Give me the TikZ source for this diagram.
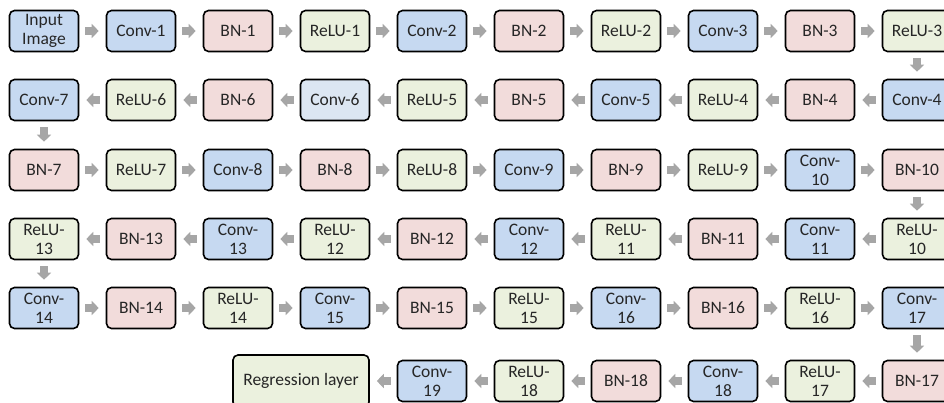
\documentclass[tikz,border=0pt]{standalone}
\usepackage{fontspec}
\setmainfont{Carlito}
\usetikzlibrary{arrows.meta}
\definecolor{cblue}{RGB}{198,217,241}
\definecolor{clight}{RGB}{220,230,242}
\definecolor{cpink}{RGB}{242,220,219}
\definecolor{cgreen}{RGB}{235,241,222}
\definecolor{carrow}{RGB}{166,166,166}
\definecolor{ctext}{RGB}{38,38,38}
\tikzset{
  box/.style={draw=black, line width=1.6pt, rounded corners=5pt, minimum width=69pt, minimum height=41pt,
    inner sep=0pt, align=center, font=\fontsize{17.5}{19}\selectfont, text=ctext},
  conv/.style={box, fill=cblue},
  convl/.style={box, fill=clight},
  bn/.style={box, fill=cpink},
  relu/.style={box, fill=cgreen},
  flow/.style={draw=carrow, line width=7.5pt, -{Triangle[width=14pt,length=7pt]}, shorten <=6pt, shorten >=7pt}
}
\begin{document}
\begin{tikzpicture}[x=1pt,y=-1pt]
\useasboundingbox (0,0) rectangle (944,403);
% row 1
\node[conv] (in) at (44,31) {Input\\Image};
\node[conv] (c1) at (141,31) {Conv-1};
\node[bn]   (b1) at (238,31) {BN-1};
\node[relu] (r1) at (335,31) {ReLU-1};
\node[conv] (c2) at (432,31) {Conv-2};
\node[bn]   (b2) at (529,31) {BN-2};
\node[relu] (r2) at (626,31) {ReLU-2};
\node[conv] (c3) at (723,31) {Conv-3};
\node[bn]   (b3) at (820,31) {BN-3};
\node[relu] (r3) at (917,31) {ReLU-3};
% row 2
\node[conv] (c4) at (917,100) {Conv-4};
\node[bn]   (b4) at (820,100) {BN-4};
\node[relu] (r4) at (723,100) {ReLU-4};
\node[conv] (c5) at (626,100) {Conv-5};
\node[bn]   (b5) at (529,100) {BN-5};
\node[relu] (r5) at (432,100) {ReLU-5};
\node[convl] (c6) at (335,100) {Conv-6};
\node[bn]   (b6) at (238,100) {BN-6};
\node[relu] (r6) at (141,100) {ReLU-6};
\node[conv] (c7) at (44,100) {Conv-7};
% row 3
\node[bn]   (b7) at (44,170) {BN-7};
\node[relu] (r7) at (141,170) {ReLU-7};
\node[conv] (c8) at (238,170) {Conv-8};
\node[bn]   (b8) at (335,170) {BN-8};
\node[relu] (r8) at (432,170) {ReLU-8};
\node[conv] (c9) at (529,170) {Conv-9};
\node[bn]   (b9) at (626,170) {BN-9};
\node[relu] (r9) at (723,170) {ReLU-9};
\node[conv] (c10) at (820,170) {Conv-\\10};
\node[bn]   (b10) at (917,170) {BN-10};
% row 4
\node[relu] (r10) at (917,239) {ReLU-\\10};
\node[conv] (c11) at (820,239) {Conv-\\11};
\node[bn]   (b11) at (723,239) {BN-11};
\node[relu] (r11) at (626,239) {ReLU-\\11};
\node[conv] (c12) at (529,239) {Conv-\\12};
\node[bn]   (b12) at (432,239) {BN-12};
\node[relu] (r12) at (335,239) {ReLU-\\12};
\node[conv] (c13) at (238,239) {Conv-\\13};
\node[bn]   (b13) at (141,239) {BN-13};
\node[relu] (r13) at (44,239) {ReLU-\\13};
% row 5
\node[conv] (c14) at (44,308) {Conv-\\14};
\node[bn]   (b14) at (141,308) {BN-14};
\node[relu] (r14) at (238,308) {ReLU-\\14};
\node[conv] (c15) at (335,308) {Conv-\\15};
\node[bn]   (b15) at (432,308) {BN-15};
\node[relu] (r15) at (529,308) {ReLU-\\15};
\node[conv] (c16) at (626,308) {Conv-\\16};
\node[bn]   (b16) at (723,308) {BN-16};
\node[relu] (r16) at (820,308) {ReLU-\\16};
\node[conv] (c17) at (917,308) {Conv-\\17};
% row 6
\node[bn]   (b17) at (917,381) {BN-17};
\node[relu] (r17) at (820,381) {ReLU-\\17};
\node[conv] (c18) at (723,381) {Conv-\\18};
\node[bn]   (b18) at (626,381) {BN-18};
\node[relu] (r18) at (529,381) {ReLU-\\18};
\node[conv] (c19) at (432,381) {Conv-\\19};
\node[relu, minimum width=136pt, minimum height=52pt] (reg) at (301,381) {Regression layer};
% arrows
\foreach \a/\b in {in/c1,c1/b1,b1/r1,r1/c2,c2/b2,b2/r2,r2/c3,c3/b3,b3/r3,r3/c4,
  c4/b4,b4/r4,r4/c5,c5/b5,b5/r5,r5/c6,c6/b6,b6/r6,r6/c7,c7/b7,
  b7/r7,r7/c8,c8/b8,b8/r8,r8/c9,c9/b9,b9/r9,r9/c10,c10/b10,b10/r10,
  r10/c11,c11/b11,b11/r11,r11/c12,c12/b12,b12/r12,r12/c13,c13/b13,b13/r13,r13/c14,
  c14/b14,b14/r14,r14/c15,c15/b15,b15/r15,r15/c16,c16/b16,b16/r16,r16/c17,c17/b17,
  b17/r17,r17/c18,c18/b18,b18/r18,r18/c19,c19/reg}
  \draw[flow] (\a) -- (\b);
\end{tikzpicture}
\end{document}
